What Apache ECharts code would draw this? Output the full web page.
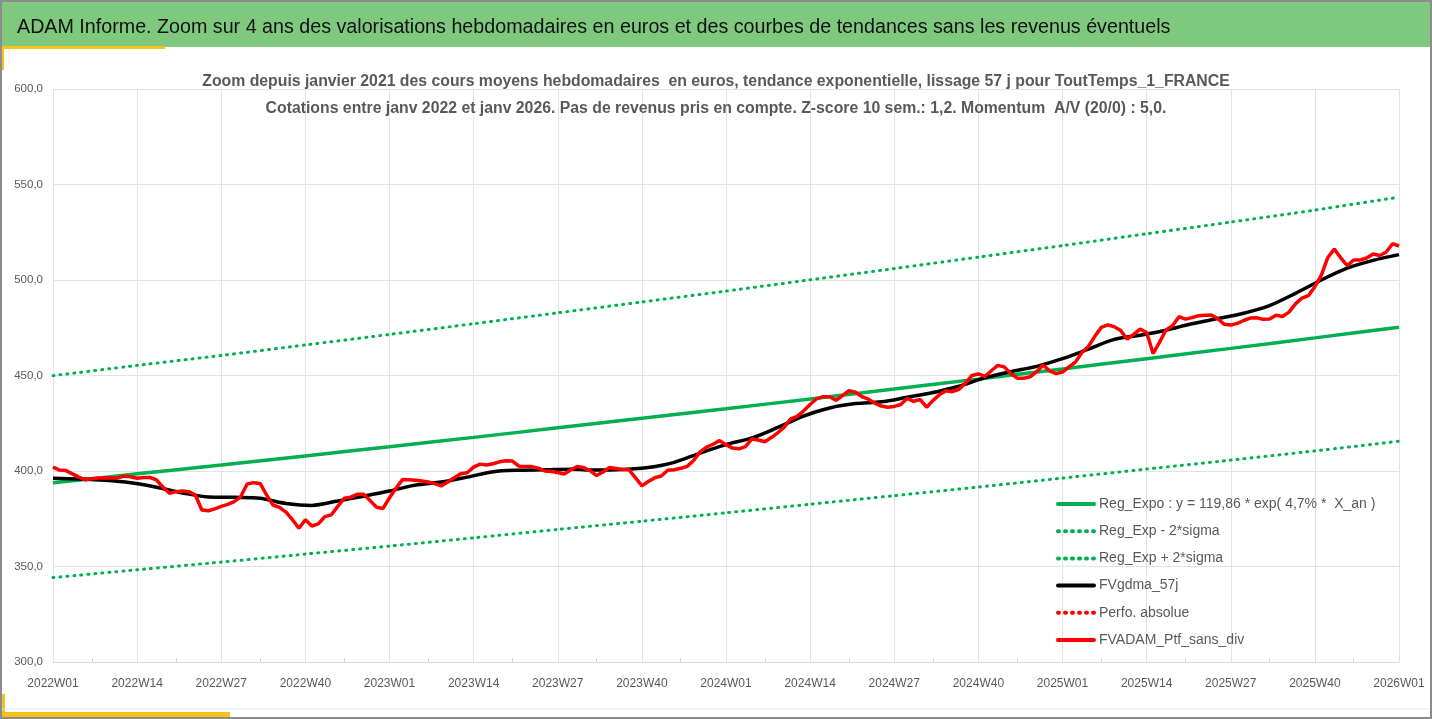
<!DOCTYPE html>
<html>

<head>
	<meta charset="utf-8" />
	<script src="https://cdn.jsdelivr.net/npm/echarts@6/dist/echarts.min.js"></script>
</head>

<title>
	ADAM Informe
</title>

<body style="margin: 0; background-color: #ffffff">
	<div id="main" style="width: 1432px; height: 719px;"></div>
</body>

<script type="text/javascript">
	var FONT = '"Liberation Sans", sans-serif';

	// weekly categories 2022W01 .. 2026W01
	var weeks = [];
	for (var y = 2022; y <= 2025; y++) {
		for (var w = 1; w <= 52; w++) {
			weeks.push(y + 'W' + (w < 10 ? '0' + w : w));
		}
	}
	weeks.push('2026W01');

	// weekly values of the portfolio
	var ptf = [
		402.0, 400.5, 400.2, 398.5, 396.8, 395.3, 396.0, 396.3, 396.5, 396.4,
		396.4, 397.3, 397.0, 396.2, 396.6, 396.6, 395.3, 391.5, 388.3, 389.2,
		389.5, 389.2, 387.4, 379.6, 379.2, 380.2, 381.5, 382.5, 384.0, 386.5,
		393.2, 393.9, 393.5, 387.5, 382.2, 381.0, 378.5, 374.5, 370.0, 374.5,
		371.2, 372.3, 376.1, 377.0, 381.5, 385.7, 386.3, 387.8, 387.8, 384.5,
		381.0, 380.4, 386.0, 391.0, 395.5, 395.4, 395.2, 394.8, 394.2, 393.4,
		392.2, 394.2, 396.5, 398.6, 399.1, 402.0, 403.6, 403.1, 403.8, 404.8,
		405.4, 405.2, 402.5, 402.3, 402.3, 401.5, 400.0, 399.7, 399.2, 398.4,
		400.5, 402.4, 401.8, 400.2, 397.6, 399.5, 401.8, 401.3, 400.8, 400.6,
		396.5, 392.2, 394.5, 396.5, 397.4, 400.4, 400.7, 401.4, 402.4, 405.5,
		410.0, 412.5, 414.0, 415.9, 413.8, 412.0, 411.6, 412.8, 416.8, 416.2,
		415.3, 417.5, 420.0, 423.0, 427.3, 428.6, 431.5, 434.8, 437.8, 438.9,
		438.9, 437.0, 439.5, 442.0, 441.2, 439.0, 437.6, 435.5, 434.0, 433.4,
		433.8, 434.8, 438.0, 436.5, 437.4, 433.4, 437.0, 440.0, 442.0, 441.5,
		442.8, 446.0, 450.0, 450.8, 449.5, 452.5, 455.3, 454.5, 451.0, 448.6,
		448.6, 449.3, 452.0, 455.5, 452.4, 451.0, 451.8, 454.5, 457.0, 462.0,
		465.2, 470.5, 475.2, 476.5, 475.5, 473.5, 469.0, 471.5, 474.3, 472.5,
		461.5, 467.5, 473.8, 476.1, 480.8, 479.5, 480.3, 481.3, 481.6, 481.7,
		479.7, 476.8, 476.4, 477.3, 478.8, 480.1, 480.2, 479.4, 479.6, 481.5,
		480.9, 483.2, 487.5, 490.5, 491.8, 496.5, 502.5, 511.8, 516.2, 511.6,
		507.5, 510.5, 510.5, 511.5, 513.6, 512.8, 514.5, 519.0, 517.8
	];

	// 57 day moving average, read every 4 weeks
	var gdmaWeeks = [];
	for (var k = 0; k <= 208; k += 4) gdmaWeeks.push(k);
	var gdma = [
		396.2, 395.8, 395.1, 393.8, 391.5, 388.5, 386.4, 386.2, 385.7, 383.0,
		382.0, 384.3, 386.8, 389.5, 392.6, 394.2, 396.8, 399.6, 400.4, 400.6,
		400.9, 400.5, 400.8, 401.8, 404.5, 409.4, 413.8, 417.3, 422.8, 428.8,
		433.0, 435.3, 436.2, 438.6, 441.1, 444.4, 448.8, 452.0, 454.8, 458.8,
		463.8, 468.9, 471.1, 473.7, 477.1, 479.8, 482.6, 486.6, 493.0, 500.0,
		506.2, 510.3, 513.3
	];

	// exponential trend and its bands, read at every 13 weeks
	var trendWeeks = [0, 13, 26, 39, 52, 65, 78, 91, 104, 117, 130, 143, 156, 169, 182, 195, 208];
	var regExpo = [393.8, 398.5, 403.1, 407.9, 412.7, 417.6, 422.6, 427.6, 432.6, 437.7, 442.9, 448.1, 453.4, 458.8, 464.2, 469.7, 475.3];
	var regUpper = [449.9, 455.3, 460.5, 466.0, 471.5, 477.1, 482.8, 488.5, 494.2, 500.1, 506.0, 512.0, 518.0, 524.2, 530.3, 536.6, 543.4];
	var regLower = [344.2, 348.3, 352.3, 356.5, 360.7, 365.0, 369.4, 373.7, 378.1, 382.6, 387.1, 391.6, 396.3, 401.0, 405.7, 410.5, 415.6];

	function pairs(xs, vs) {
		return xs.map(function (x, i) { return [x, vs[i]]; });
	}

	var GREEN = '#00b050';
	var DOT = [1, 6];

	var myChart = echarts.init(document.getElementById('main'));

	option = {
		backgroundColor: '#ffffff',
		animation: false,
		textStyle: { fontFamily: FONT },
		graphic: [
			{ type: 'rect', shape: { x: 0, y: 0, width: 1432, height: 47 }, style: { fill: '#7fc97f' }, z: -10 },
			{ type: 'rect', shape: { x: 0, y: 46, width: 165, height: 3 }, style: { fill: '#f5c218' } },
			{ type: 'rect', shape: { x: 0, y: 46, width: 4, height: 24 }, style: { fill: '#f5c218' } },
			{ type: 'rect', shape: { x: 0, y: 712, width: 230, height: 5 }, style: { fill: '#f5c218' } },
			{ type: 'rect', shape: { x: 0, y: 694, width: 5, height: 23 }, style: { fill: '#f5c218' } },
			{ type: 'line', shape: { x1: 0, y1: 709, x2: 1432, y2: 709 }, style: { stroke: '#e6e6e6', lineWidth: 1 } },
			{ type: 'rect', shape: { x: 1, y: 1, width: 1430, height: 717 }, style: { fill: 'none', stroke: '#8c8c8c', lineWidth: 2 } }
		],
		title: [
			{
				text: 'ADAM Informe. Zoom sur 4 ans des valorisations hebdomadaires en euros et des courbes de tendances sans les revenus éventuels',
				left: 12,
				top: 13,
				textStyle: { fontFamily: FONT, fontSize: 19.7, fontWeight: 'normal', color: '#111111' }
			},
			{
				text: 'Zoom depuis janvier 2021 des cours moyens hebdomadaires  en euros, tendance exponentielle, lissage 57 j pour ToutTemps_1_FRANCE\nCotations entre janv 2022 et janv 2026. Pas de revenus pris en compte. Z-score 10 sem.: 1,2. Momentum  A/V (20/0) : 5,0.',
				left: 'center',
				top: 63,
				textStyle: { fontFamily: FONT, fontSize: 15.8, fontWeight: 'bold', color: '#595959', lineHeight: 27, align: 'center' }
			}
		],
		legend: {
			orient: 'vertical',
			left: 1051,
			top: 492,
			itemWidth: 36,
			itemHeight: 14,
			itemGap: 13.2,
			itemStyle: { opacity: 0 },
			lineStyle: { width: 4, cap: 'round' },
			textStyle: { fontFamily: FONT, fontSize: 14, color: '#595959' },
			data: [
				'Reg_Expo : y = 119,86 * exp( 4,7% *  X_an )',
				'Reg_Exp - 2*sigma',
				'Reg_Exp + 2*sigma',
				'FVgdma_57j',
				'Perfo. absolue',
				'FVADAM_Ptf_sans_div'
			]
		},
		grid: { left: 53, right: 33, top: 89, bottom: 57, containLabel: false },
		xAxis: {
			type: 'category',
			data: weeks,
			boundaryGap: false,
			axisLine: { lineStyle: { color: '#d9d9d9' } },
			axisTick: { show: true, inside: true, length: 4, interval: function (i) { return i % 13 === 6; }, lineStyle: { color: '#d9d9d9' } },
			axisLabel: { interval: 12, color: '#595959', fontFamily: FONT, fontSize: 12, margin: 16 },
			splitLine: { show: true, interval: 12, lineStyle: { color: '#e3e3e3' } }
		},
		yAxis: {
			type: 'value',
			min: 300,
			max: 600,
			interval: 50,
			axisLine: { show: false },
			axisTick: { show: false },
			axisLabel: {
				color: '#595959',
				fontFamily: FONT,
				fontSize: 11.5,
				margin: 10,
				formatter: function (v) { return v.toFixed(1).replace('.', ','); }
			},
			splitLine: { lineStyle: { color: '#e3e3e3' } }
		},
		series: [
			{
				name: 'Reg_Expo : y = 119,86 * exp( 4,7% *  X_an )',
				type: 'line',
				data: pairs(trendWeeks, regExpo),
				smooth: 0.2,
				symbol: 'none',
				lineStyle: { color: GREEN, width: 3.5 },
				itemStyle: { color: GREEN }
			},
			{
				name: 'Reg_Exp - 2*sigma',
				type: 'line',
				data: pairs(trendWeeks, regLower),
				smooth: 0.2,
				symbol: 'none',
				lineStyle: { color: GREEN, width: 3, type: DOT, cap: 'round' },
				itemStyle: { color: GREEN }
			},
			{
				name: 'Reg_Exp + 2*sigma',
				type: 'line',
				data: pairs(trendWeeks, regUpper),
				smooth: 0.2,
				symbol: 'none',
				lineStyle: { color: GREEN, width: 3, type: DOT, cap: 'round' },
				itemStyle: { color: GREEN }
			},
			{
				name: 'FVgdma_57j',
				type: 'line',
				data: pairs(gdmaWeeks, gdma),
				smooth: 0.3,
				symbol: 'none',
				lineStyle: { color: '#000000', width: 3.5 },
				itemStyle: { color: '#000000' }
			},
			{
				name: 'Perfo. absolue',
				type: 'line',
				data: [],
				symbol: 'none',
				lineStyle: { color: '#ff0000', width: 3, type: DOT, cap: 'round' },
				itemStyle: { color: '#ff0000' }
			},
			{
				name: 'FVADAM_Ptf_sans_div',
				type: 'line',
				data: ptf,
				symbol: 'none',
				lineStyle: { color: '#ff0000', width: 3.5 },
				itemStyle: { color: '#ff0000' }
			}
		]
	};

	myChart.setOption(option);
</script>

</html>
